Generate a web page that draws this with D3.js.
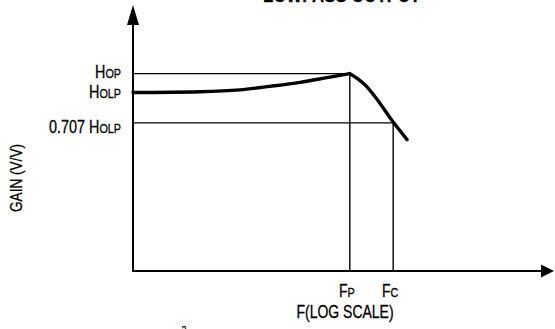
<!DOCTYPE html>
<html><head><meta charset="utf-8">
<script src="https://cdn.jsdelivr.net/npm/d3@7"></script>
<style>html,body{margin:0;padding:0;background:#fff;overflow:hidden}</style>
</head><body>
<svg id="c" width="555" height="329"></svg>
<script>
// Data (chart units: x = log-frequency position 0..100, y = gain position 0..100)
const freqRise = [0, 15.9, 25.4, 32.5, 39.7, 46.8, 51.5];
const gainRise = [67.1, 67.4, 68.1, 69.4, 70.9, 72.9, 74.2];
const freqFall = [51.5, 53.4, 55.3, 58.2, 61.8, 65.1];
const gainFall = [74.2, 72.2, 69.7, 64.0, 56.0, 49.4];
const levelNames = ["HOP", "HOLP", "0.707 HOLP"];
const levelValues = [74.2, 67.1, 55.7];
const freqMarks = ["FP", "FC"];
const freqMarkValues = [51.5, 61.8];
const title = "LOWPASS OUTPUT";
const xTitle = "F(LOG SCALE)";
const yTitle = "GAIN (V/V)";

const svg = d3.select("#c");
const x = d3.scaleLinear().domain([0, 100]).range([133, 554]);
const y = d3.scaleLinear().domain([0, 100]).range([271, 5]);
const FONT = "'Liberation Sans', Arial, sans-serif";
const SX = 0.8;

function label(g, px, py, parts, anchor, rot) {
  const t = g.append("g").attr("transform", `translate(${px},${py})` + (rot ? ` rotate(${rot})` : "") + ` scale(${SX},1)`)
    .append("text").attr("text-anchor", anchor).attr("font-family", FONT).attr("fill", "#000")
    .attr("stroke", "#000").attr("stroke-width", 0.3);
  parts.forEach(p => t.append("tspan").attr("font-size", p[1]).attr("font-weight", p[2] || "normal").text(p[0]));
  return t;
}

// title (mostly clipped at top, as in the reference)
label(svg, 263, 1.5, [[title, 21, "bold"]], "start");

// axes
const x0 = x(0), y0 = y(0);
svg.append("line").attr("x1", x0).attr("y1", y0).attr("x2", x(96.9)).attr("y2", y0)
  .attr("stroke", "#000").attr("stroke-width", 2);
svg.append("line").attr("x1", x0).attr("y1", y0 + 1).attr("x2", x0).attr("y2", y(92.5))
  .attr("stroke", "#000").attr("stroke-width", 2);
svg.append("path").attr("d", `M${x(100)},${y0} L${x(96.9)},${y0 - 6.5} L${x(96.9)},${y0 + 6.5} Z`).attr("fill", "#000");
svg.append("path").attr("d", `M${x0},${y(100)} L${x0 - 6},${y(92.5)} L${x0 + 6},${y(92.5)} Z`).attr("fill", "#000");

// reference lines
const ref = svg.append("g").attr("stroke", "#000").attr("stroke-width", 1.4).attr("fill", "none");
ref.append("line").attr("x1", x0).attr("x2", x(freqMarkValues[0])).attr("y1", y(levelValues[0])).attr("y2", y(levelValues[0]));
ref.append("line").attr("x1", x0).attr("x2", x(freqMarkValues[1])).attr("y1", y(levelValues[2])).attr("y2", y(levelValues[2]));
ref.append("line").attr("x1", x(freqMarkValues[0])).attr("x2", x(freqMarkValues[0])).attr("y1", y0).attr("y2", y(levelValues[0]));
ref.append("line").attr("x1", x(freqMarkValues[1])).attr("x2", x(freqMarkValues[1])).attr("y1", y0).attr("y2", y(levelValues[2]));

// curve (two smooth branches meeting at the peak)
const line = d3.line().x(d => x(d[0])).y(d => y(d[1])).curve(d3.curveMonotoneX);
const rise = freqRise.map((f, i) => [f, gainRise[i]]);
const fall = freqFall.map((f, i) => [f, gainFall[i]]);
svg.append("path").attr("d", line(rise)).attr("fill", "none").attr("stroke", "#000").attr("stroke-width", 3.4).attr("stroke-linecap", "round");
svg.append("path").attr("d", line(fall)).attr("fill", "none").attr("stroke", "#000").attr("stroke-width", 3.4).attr("stroke-linecap", "round").attr("stroke-linejoin", "round");

// level labels
const lbl = svg.append("g");
const lvlOffsets = [4, 5, 10];
levelNames.forEach((n, i) => {
  const m = n.match(/^(.*?)(H)(.*)$/);
  const parts = [];
  if (m[1]) parts.push([m[1], 18]);
  parts.push([m[2], 18]);
  parts.push([m[3], 13.5]);
  label(lbl, 121, y(levelValues[i]) + lvlOffsets[i], parts, "end");
});

// frequency labels
freqMarks.forEach((n, i) => {
  label(svg, x(freqMarkValues[i]) - 3, 297, [[n[0], 17.5], [n.slice(1), 13.5]], "middle");
});

// axis titles
label(svg, 345, 318, [[xTitle, 17.5]], "middle");
label(svg, 21.5, 178, [[yTitle, 17]], "middle", -90);

// stray footnote glyph at the bottom edge, as in the reference
label(svg, 184, 334, [["2", 11]], "middle");
</script>
</body></html>
